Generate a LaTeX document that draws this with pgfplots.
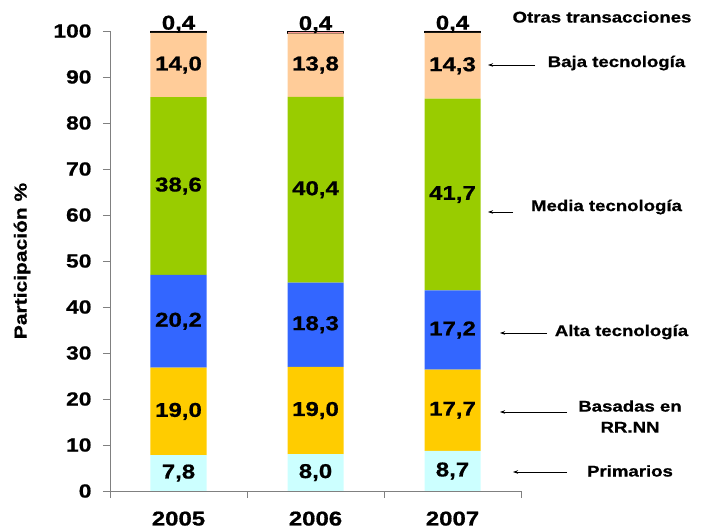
\documentclass[border=0pt]{standalone}
\usepackage{fontspec}
\setmainfont{Liberation Sans}[FakeStretch=1.2, BoldFeatures={FakeBold=0.8}]
\usepackage{pgfplots}
\usepackage{pgfplotstable}
\pgfplotsset{compat=1.18}
\usetikzlibrary{arrows.meta}

\definecolor{cPrim}{HTML}{CCFFFF}
\definecolor{cBas}{HTML}{FFCC00}
\definecolor{cAlta}{HTML}{3366FF}
\definecolor{cMed}{HTML}{99CC00}
\definecolor{cBaja}{HTML}{FFCC99}
\definecolor{cOtr}{HTML}{FF9999}
\definecolor{axgray}{HTML}{808080}

\newcommand\fs[1]{\fontsize{#1}{#1}\selectfont\bfseries}

\pgfplotstableread{
x prim bas alta media baja otras
0 7.8 19.0 20.2 38.6 14.0 0.4
1 8.0 19.0 18.3 40.4 13.8 0.4
2 8.7 17.7 17.2 41.7 14.3 0.4
}\datatable

% label positions: middle of each stacked segment
\pgfplotstableread{
x y v
0 3.9 7.8
0 17.3 19.0
0 36.9 20.2
0 66.3 38.6
0 92.6 14.0
1 4.0 8.0
1 17.5 19.0
1 36.15 18.3
1 65.5 40.4
1 92.6 13.8
2 4.35 8.7
2 17.55 17.7
2 35.0 17.2
2 64.45 41.7
2 92.45 14.3
}\labtable

\pgfplotstableread{
x y v
0 100.3 0.4
1 100.2 0.4
2 100.3 0.4
}\toptable

\begin{document}
\begin{tikzpicture}
\path[use as bounding box] (-110pt,-41pt) rectangle (591pt,491pt);
\begin{axis}[
  at={(0pt,0pt)}, anchor=south west,
  scale only axis, width=411pt, height=460pt,
  xmin=-0.5, xmax=2.5, ymin=0, ymax=100,
  ybar stacked, bar width=56pt,
  axis x line*=bottom, axis y line*=left,
  axis line style={draw=axgray, line width=0.9pt},
  tick align=outside,
  major tick length=7pt,
  tick style={draw=axgray, line width=0.9pt},
  xtick={-0.5,0.5,1.5,2.5}, xticklabels={},
  extra x ticks={0,1,2}, extra x tick labels={2005,2006,2007},
  extra x tick style={major tick length=0pt},
  ytick={0,10,...,100},
  /pgf/number format/assume math mode=true,
  yticklabel style={font=\fs{19}, xshift=-8pt},
  xticklabel style={font=\fs{20}, yshift=-17pt},
  ylabel={Participación \%},
  ylabel style={font=\fs{17.5}, at={(axis description cs:-0.214,0.5)}, anchor=center},
  clip=false,
]
\addplot[fill=cPrim, draw=none] table[x=x,y=prim]{\datatable};
\addplot[fill=cBas, draw=none] table[x=x,y=bas]{\datatable};
\addplot[fill=cAlta, draw=none] table[x=x,y=alta]{\datatable};
\addplot[fill=cMed, draw=none] table[x=x,y=media]{\datatable};
\addplot[fill=cBaja, draw=none] table[x=x,y=baja]{\datatable};
\addplot[fill=cOtr, draw=black, line width=0.7pt] table[x=x,y=otras]{\datatable};
\end{axis}
\begin{axis}[
  at={(0pt,0pt)}, anchor=south west,
  scale only axis, width=411pt, height=460pt,
  xmin=-0.5, xmax=2.5, ymin=0, ymax=100,
  hide axis, clip=false,
  /pgf/number format/fixed,
  /pgf/number format/fixed zerofill,
  /pgf/number format/precision=1,
  /pgf/number format/use comma,
  /pgf/number format/assume math mode=true,
]
\addplot[draw=none, mark=none, point meta=explicit, nodes near coords,
  nodes near coords align={anchor=center},
  every node near coord/.append style={font=\fs{20}, inner sep=0pt}]
  table[x=x,y=y,meta=v]{\labtable};
\addplot[draw=none, mark=none, point meta=explicit, nodes near coords,
  nodes near coords align={anchor=base},
  every node near coord/.append style={font=\fs{20}, inner sep=0pt}]
  table[x=x,y=y,meta=v]{\toptable};
\end{axis}

\node[font=\fs{15.5}] at (492pt,474pt) {Otras transacciones};
\node[font=\fs{15.5}] at (506.5pt,428pt) {Baja tecnología};
\draw[-{Stealth[length=5pt,width=3.5pt]}, line width=0.8pt] (425pt,426pt) -- (378pt,426pt);
\node[font=\fs{15.5}] at (496.5pt,284pt) {Media tecnología};
\draw[-{Stealth[length=5pt,width=3.5pt]}, line width=0.8pt] (403pt,279pt) -- (378pt,279pt);
\node[font=\fs{15.5}] at (511.5pt,159pt) {Alta tecnología};
\draw[-{Stealth[length=5pt,width=3.5pt]}, line width=0.8pt] (437pt,158pt) -- (390pt,158pt);
\node[font=\fontsize{15.5}{21}\selectfont\bfseries, align=center] at (520pt,74.5pt) {Basadas en\\RR.NN};
\draw[-{Stealth[length=5pt,width=3.5pt]}, line width=0.8pt] (457pt,79pt) -- (390pt,79pt);
\node[font=\fs{15.5}] at (520pt,20pt) {Primarios};
\draw[-{Stealth[length=5pt,width=3.5pt]}, line width=0.8pt] (457pt,19pt) -- (403pt,19pt);
\end{tikzpicture}
\end{document}
